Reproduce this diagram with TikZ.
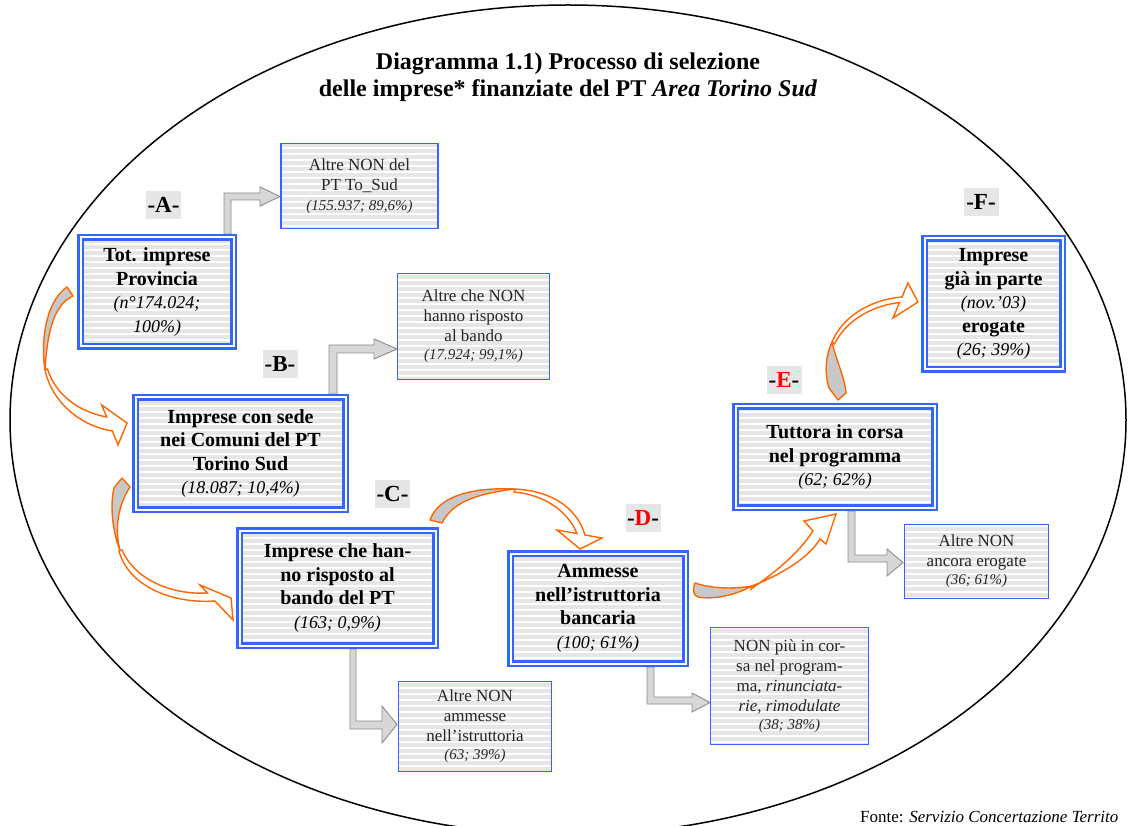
\documentclass[tikz,border=0pt]{standalone}
\usepackage{fontspec}
\setmainfont{Liberation Serif}
\usetikzlibrary{patterns.meta}
\definecolor{boxblue}{RGB}{51,102,255}
\definecolor{boxgray}{RGB}{230,230,230}
\definecolor{arrgray}{RGB}{215,215,215}
\definecolor{arredge}{RGB}{140,140,140}
\definecolor{orng}{RGB}{255,102,0}
\definecolor{bandgray}{RGB}{200,200,200}
\newcommand{\dBold}{\fontsize{20}{23.5}\selectfont\bfseries}
\newcommand{\dItal}{\fontsize{18}{21}\selectfont\mdseries\itshape}
\newcommand{\dReg}{\fontsize{17}{20}\selectfont}
\newcommand{\dSmIt}{\fontsize{15}{18}\selectfont\itshape}
\tikzset{
  stripes/.style={preaction={fill=boxgray}, pattern={Lines[angle=0,distance=6pt,line width=1.1pt]}, pattern color=white},
  mainbox/.style={stripes, draw=boxblue, line width=2.6pt, double=white, double distance=2pt, align=center, inner sep=0pt, font=\dBold},
  smallbox/.style={stripes, draw=boxblue, line width=1.4pt, align=center, inner sep=0pt, font=\dReg, text=black!85},
  lbl/.style={fill=boxgray, font=\fontsize{23}{25}\selectfont\bfseries, inner sep=0pt, minimum width=35pt, minimum height=28pt},
  grayarr/.style={fill=arrgray, draw=arredge, line width=0.9pt, line join=miter},
  band/.style={fill=bandgray, draw=orng, line width=1.4pt, line join=round},
  thinband/.style={fill=white, draw=orng, line width=1.4pt, line join=miter}
}
\begin{document}
\begin{tikzpicture}[x=1pt,y=-1pt]
\useasboundingbox (0,0) rectangle (1128,826);
\fill[white] (0,0) rectangle (1128,826);
% ellipse
\draw[line width=1.5pt] (568,420) ellipse [x radius=558pt, y radius=415pt];
% title
\node[font=\fontsize{24}{27}\selectfont\bfseries, align=center] (title) at (568,77)
  {Diagramma 1.1) Processo di selezione\\delle imprese* finanziate del PT \textit{Area Torino Sud}};
% gray L arrows
\draw[grayarr] (224,234) -- (224,193) -- (260,193) -- (260,187) -- (280,196.5) -- (260,206) -- (260,200) -- (231,200) -- (231,234) -- cycle;
\draw[grayarr] (329,394) -- (329,345) -- (374,345) -- (374,339) -- (397,349) -- (374,359) -- (374,353) -- (337,353) -- (337,394) -- cycle;
\draw[grayarr] (350,649) -- (350,729) -- (382,729) -- (382,743) -- (397,724.5) -- (382,706) -- (382,721) -- (356,721) -- (356,649) -- cycle;
\draw[grayarr] (647,667) -- (647,704) -- (692,704) -- (692,712) -- (710,702.5) -- (692,693) -- (692,697) -- (654,697) -- (654,667) -- cycle;
\draw[grayarr] (848,511) -- (848,562) -- (887,562) -- (887,576) -- (903,562.5) -- (887,549) -- (887,555) -- (855,555) -- (855,511) -- cycle;
% main boxes
\node[mainbox, minimum width=153pt, minimum height=109pt] (A) at (157,292)
  {Tot. imprese\\Provincia\\{\dItal (n°174.024;}\\{\dItal 100\%)}};
\node[mainbox, minimum width=210pt, minimum height=112pt] (B) at (240.5,453.5)
  {Imprese con sede\\nei Comuni del PT\\Torino Sud\\{\dItal (18.087; 10,4\%)}};
\node[mainbox, minimum width=196pt, minimum height=115pt] (C) at (337.5,588)
  {Imprese che han-\\no risposto al\\bando del PT\\{\dItal (163; 0,9\%)}};
\node[mainbox, minimum width=175pt, minimum height=110pt] (D) at (598,608.5)
  {Ammesse\\nell’istruttoria\\bancaria\\{\dItal (100; 61\%)}};
\node[mainbox, minimum width=199pt, minimum height=101pt] (E) at (835,457)
  {Tuttora in corsa\\nel programma\\{\dItal (62; 62\%)}};
\node[mainbox, minimum width=138pt, minimum height=131pt] (F) at (993.5,304)
  {Imprese\\già in parte\\{\dItal (nov.’03)}\\erogate\\{\dItal (26; 39\%)}};
% small boxes
\node[smallbox, minimum width=157pt, minimum height=85pt] (S1) at (359.5,186)
  {Altre NON del\\PT To\_Sud\\{\dSmIt (155.937; 89,6\%)}};
\node[smallbox, minimum width=152pt, minimum height=106pt] (S2) at (473.5,326.5)
  {Altre che NON\\hanno risposto\\al bando\\[-2pt]{\dSmIt (17.924; 99,1\%)}};
\node[smallbox, minimum width=153pt, minimum height=90pt] (S3) at (475,726.5)
  {Altre NON\\ammesse\\nell’istruttoria\\[-2pt]{\dSmIt (63; 39\%)}};
\node[smallbox, minimum width=158pt, minimum height=117pt] (S4) at (789.5,686)
  {NON più in cor-\\sa nel program-\\ma, \textit{rinunciata-}\\\textit{rie}, \textit{rimodulate}\\[-2pt]{\dSmIt (38; 38\%)}};
\node[smallbox, minimum width=144pt, minimum height=74pt] (S5) at (976.5,561.5)
  {Altre NON\\ancora erogate\\[-2pt]{\dSmIt (36; 61\%)}};
% labels
\node[lbl] (LA) at (163.5,205) {-A-};
\node[lbl] (LB) at (280,364.5) {-B-};
\node[lbl] (LC) at (392.5,493.5) {-C-};
\node[lbl] (LD) at (643,517.5) {-\textcolor{red}{D}-};
\node[lbl] (LE) at (784,380) {-\textcolor{red}{E}-};
\node[lbl] (LF) at (981,202) {-F-};
% curved arrows: gray twisted tail, thin white band, head
% A -> B
\draw[band] (67,287) .. controls (48,300) and (40,335) .. (45,370) .. controls (47,335) and (53,305) .. (73,296) -- cycle;
\draw[thinband] (45,370) .. controls (52,402) and (80,426) .. (112.5,431) -- (118,445) -- (127,423) -- (101.7,405) -- (106.7,417) .. controls (80,412) and (56,396) .. (47.5,369) -- cycle;
% B -> C
\draw[band] (114,488) -- (122,478) -- (130,487) .. controls (118,505) and (114,530) .. (120.5,552) .. controls (112,530) and (110,505) .. (114,488) -- cycle;
\draw[thinband] (119,551) .. controls (128,585) and (170,604) .. (215,601) -- (233,620) -- (231,598) -- (200,585) -- (207.5,593) .. controls (172,595) and (135,580) .. (122,550) -- cycle;
% C -> D
\draw[band] (430,520) .. controls (438,497) and (470,487) .. (515,489) .. controls (474,494) and (452,503) .. (442,523) -- cycle;
\draw[thinband] (515,489) .. controls (552,491) and (577,508) .. (585,535) -- (602,538) -- (580,549) -- (557,530) -- (577,533.5) .. controls (568,512) and (546,495) .. (514,492) -- cycle;
% D -> E
\draw[band] (695,583) .. controls (692,590) and (694,596) .. (698,597) .. controls (715,600) and (735,595) .. (752,586) .. controls (735,589) and (712,589) .. (695,583) -- cycle;
\draw[thinband] (752,586) .. controls (785,573) and (810,556) .. (820,539) -- (826,544) -- (836,514) -- (804,521) -- (813,531) .. controls (800,551) and (780,569) .. (751,589) -- cycle;
% E -> F
\draw[band] (829,388) .. controls (824,372) and (826,355) .. (832,342) .. controls (836,360) and (845,378) .. (846,393) -- (838,400) -- cycle;
\draw[thinband] (832,342) .. controls (842,318) and (868,300) .. (902,297) -- (908,283) -- (918,302) -- (893,318) -- (899.5,302.5) .. controls (870,306) and (845,322) .. (834.5,344) -- cycle;
% footer
\node[anchor=base west, font=\fontsize{17}{19}\selectfont, inner sep=0pt] (fonte) at (860,822)
  {Fonte: \textit{Servizio Concertazione Territo}};
\end{tikzpicture}
\end{document}
